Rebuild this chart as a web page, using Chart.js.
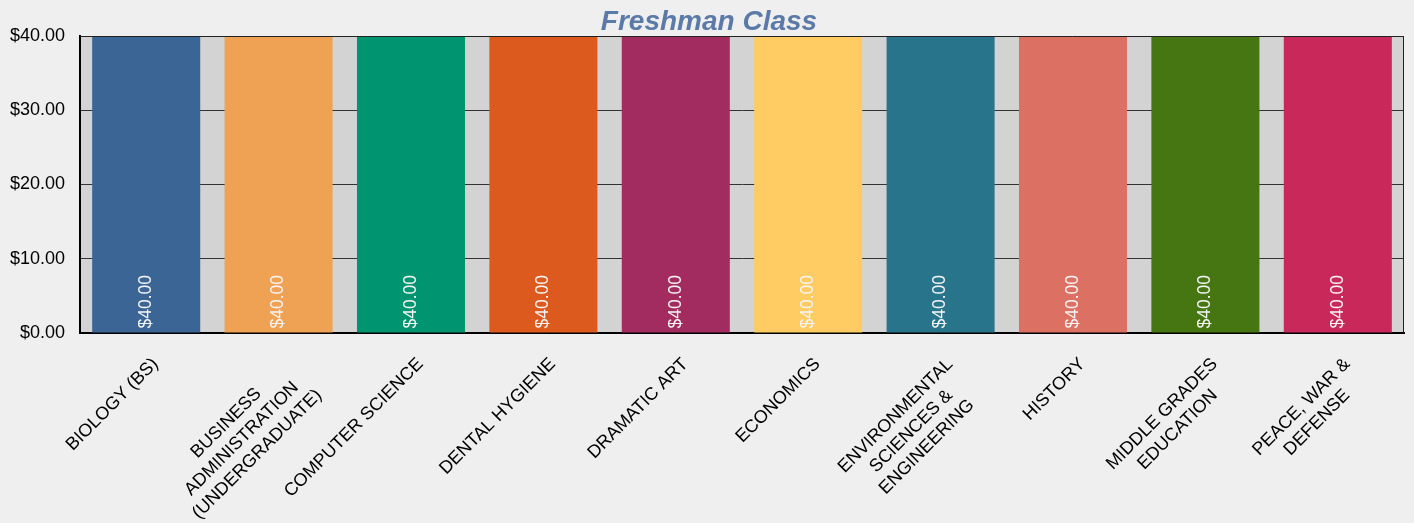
<!DOCTYPE html>
<html>
<head>
<meta charset="utf-8">
<script src="https://cdn.jsdelivr.net/npm/chart.js@4"></script>
<style>
  body { margin: 0; background: #efefef; }
  #wrap { width: 1414px; height: 523px; position: relative; }
</style>
</head>
<body>
<div id="wrap"><canvas id="chart"></canvas></div>
<script>
majors = [
  ["BIOLOGY (BS)"],
  ["BUSINESS", "ADMINISTRATION", "(UNDERGRADUATE)"],
  ["COMPUTER SCIENCE"],
  ["DENTAL HYGIENE"],
  ["DRAMATIC ART"],
  ["ECONOMICS"],
  ["ENVIRONMENTAL", "SCIENCES &", "ENGINEERING"],
  ["HISTORY"],
  ["MIDDLE GRADES", "EDUCATION"],
  ["PEACE, WAR &", "DEFENSE"]
];
fees = [40, 40, 40, 40, 40, 40, 40, 40, 40, 40];
yTicks = [0, 10, 20, 30, 40];
colors = ["#3a6595", "#f0a254", "#009571", "#dd5a1f", "#a22c5f", "#fecc63", "#27748b", "#dc7163", "#457612", "#c9285a"];
subTitle = "Freshman Class";

var fontFamily = "Arial, 'Liberation Sans', sans-serif";

function money(v) {
  return "$" + Number(v).toFixed(2);
}

// plot background, top/right frame and the class heading
const plotFrame = {
  id: "plotFrame",
  beforeDraw(chart) {
    const a = chart.chartArea;
    const ctx = chart.ctx;
    ctx.save();
    ctx.fillStyle = "#d3d3d3";
    ctx.fillRect(a.left, a.top, a.right - a.left, a.bottom - a.top);
    ctx.restore();
  },
  afterDraw(chart) {
    const a = chart.chartArea;
    const ctx = chart.ctx;
    ctx.save();
    ctx.strokeStyle = "#222";
    ctx.lineWidth = 1;
    ctx.beginPath();
    ctx.moveTo(a.left, a.top + 0.5);
    ctx.lineTo(a.right - 0.5, a.top + 0.5);
    ctx.lineTo(a.right - 0.5, a.bottom);
    ctx.stroke();

    ctx.font = "italic bold 28px " + fontFamily;
    ctx.fillStyle = "#5b7aa8";
    ctx.textAlign = "center";
    ctx.textBaseline = "middle";
    ctx.fillText(subTitle, chart.width / 2 + 2, 22);
    ctx.restore();
  }
};

// "$40.00" written upward inside each bar
const barValues = {
  id: "barValues",
  afterDatasetsDraw(chart) {
    const ctx = chart.ctx;
    const meta = chart.getDatasetMeta(0);
    ctx.save();
    ctx.font = "17.5px " + fontFamily;
    ctx.fillStyle = "#f4f4f4";
    ctx.textAlign = "left";
    ctx.textBaseline = "middle";
    meta.data.forEach(function (bar, i) {
      ctx.save();
      ctx.translate(bar.x, bar.base - 4);
      ctx.rotate(-Math.PI / 2);
      ctx.fillText(money(fees[i]), 0, 0);
      ctx.restore();
    });
    ctx.restore();
  }
};

// rotated category labels, lines centred on each other
const slantLabels = {
  id: "slantLabels",
  afterDraw(chart) {
    const ctx = chart.ctx;
    const xs = chart.scales.x;
    const lh = 22;
    ctx.save();
    ctx.font = "18px " + fontFamily;
    ctx.fillStyle = "#000";
    ctx.textAlign = "center";
    ctx.textBaseline = "top";
    majors.forEach(function (lines, i) {
      const px = xs.getPixelForValue(i);
      var maxW = 0;
      lines.forEach(function (l) { maxW = Math.max(maxW, ctx.measureText(l).width); });
      ctx.save();
      ctx.translate(px + 3, chart.chartArea.bottom + 22);
      ctx.rotate(-Math.PI / 4);
      lines.forEach(function (l, j) {
        ctx.fillText(l, -maxW / 2, j * lh);
      });
      ctx.restore();
    });
    ctx.restore();
  }
};

new Chart(document.getElementById("chart"), {
  type: "bar",
  data: {
    labels: majors,
    datasets: [
      {
        data: fees,
        backgroundColor: colors,
        borderWidth: 0,
        barPercentage: 0.816,
        categoryPercentage: 1
      }
    ]
  },
  options: {
    responsive: true,
    maintainAspectRatio: false,
    animation: false,
    layout: { padding: { left: 0, right: 10, top: 36, bottom: 0 } },
    plugins: {
      legend: { display: false },
      tooltip: { enabled: false },
      title: { display: false }
    },
    scales: {
      x: {
        ticks: { display: false },
        grid: { display: false },
        border: { color: "#000", width: 2 },
        afterFit(scale) { scale.height = 190; }
      },
      y: {
        min: 0,
        max: 40,
        afterBuildTicks(scale) { scale.ticks = yTicks.map(function (v) { return { value: v }; }); },
        ticks: {
          color: "#000",
          padding: 15,
          font: { family: fontFamily, size: 18 },
          callback: function (v) { return money(v); }
        },
        grid: { color: "#333", lineWidth: 1, drawTicks: false },
        border: { color: "#000", width: 2 },
        afterFit(scale) { scale.width = 80; }
      }
    }
  },
  plugins: [plotFrame, barValues, slantLabels]
});
</script>
</body>
</html>
